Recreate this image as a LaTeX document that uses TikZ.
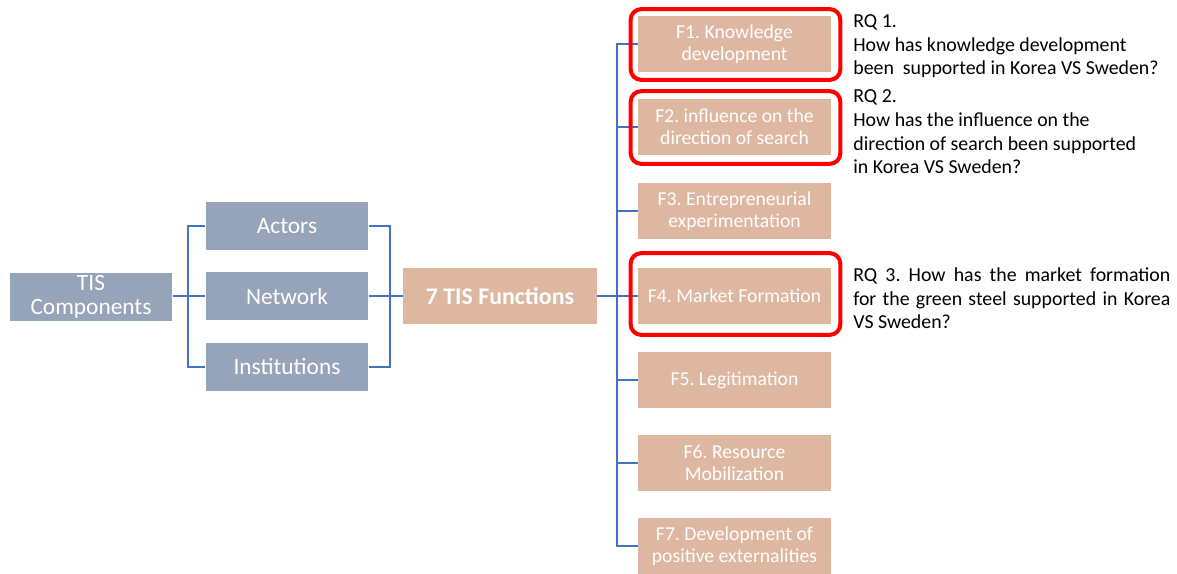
\documentclass[tikz,border=0pt]{standalone}
\usepackage{fontspec}
\setmainfont{Carlito}
\frenchspacing
\definecolor{compgray}{RGB}{150,164,185}
\definecolor{functan}{RGB}{222,183,161}
\definecolor{linkblue}{RGB}{68,114,196}
\definecolor{rqred}{RGB}{255,0,0}
\begin{document}
\begin{tikzpicture}[x=0.02cm,y=-0.02cm,
    comp/.style={fill=compgray,text=white,minimum width=3.26cm,minimum height=0.98cm,
        inner sep=0pt,align=center,font=\fontsize{13.3}{13.9}\selectfont},
    func/.style={fill=functan,text=white,minimum width=3.86cm,minimum height=1.14cm,
        inner sep=0pt,align=center,font=\fontsize{11.2}{12.5}\selectfont},
    link/.style={draw=linkblue,line width=1.1pt},
    hilite/.style={draw=rqred,line width=2.3pt,rounded corners=6pt},
    rq/.style={anchor=base west,inner sep=0pt,align=left,font=\fontsize{11.3}{13.5}\selectfont}]
        \useasboundingbox (0,0) rectangle (1177,574);
        %% components
        \node[comp] (tis) at (91,297) {TIS\\Components};
        \node[comp] (actors) at (287,226) {Actors};
        \node[comp] (network) at (287,296) {Network};
        \node[comp] (inst) at (287,367) {Institutions};
        %% functions
        \node[func,minimum width=3.88cm,font=\fontsize{13.6}{14}\selectfont\bfseries] (tisf) at (500,296) {7 TIS Functions};
        \node[func] (f1) at (734.5,44) {F1. Knowledge\\development};
        \node[func] (f2) at (734.5,127) {F2. influence on the\\direction of search};
        \node[func] (f3) at (734.5,211) {F3. Entrepreneurial\\experimentation};
        \node[func] (f4) at (734.5,296) {F4. Market Formation};
        \node[func] (f5) at (734.5,380) {F5. Legitimation};
        \node[func] (f6) at (734.5,463) {F6. Resource\\Mobilization};
        \node[func] (f7) at (734.5,546) {F7. Development of\\positive externalities};
        %% connectors
        \coordinate (lbus) at (188,296);
        \coordinate (rbus) at (390,296);
        \coordinate (trunk) at (617,296);
        \draw[link] (tis.east |- lbus) -- (lbus);
        \draw[link] (lbus) |- (actors.west);
        \draw[link] (lbus) |- (inst.west);
        \draw[link] (lbus) -- (network.west);
        \draw[link] (actors.east) -| (rbus);
        \draw[link] (inst.east) -| (rbus);
        \draw[link] (network.east) -- (tisf.west);
        \draw[link] (tisf.east) -- (f4.west);
        \draw[link] (trunk) |- (f1.west);
        \draw[link] (trunk) |- (f2.west);
        \draw[link] (trunk) |- (f3.west);
        \draw[link] (trunk) |- (f5.west);
        \draw[link] (trunk) |- (f6.west);
        \draw[link] (trunk) |- (f7.west);
        %% highlights
        \draw[hilite] ([shift={(-7,-6)}]f1.north west) rectangle ([shift={(9,7)}]f1.south east);
        \draw[hilite] ([shift={(-7,-7)}]f2.north west) rectangle ([shift={(9,8)}]f2.south east);
        \draw[hilite] ([shift={(-7,-14)}]f4.north west) rectangle ([shift={(9,10)}]f4.south east);
        %% research questions
        \node[rq] (rq1) at (853,75) {RQ 1.\\How has knowledge development\\been~ supported in Korea VS Sweden?};
        \node[rq] (rq2) at (853,174) {RQ 2.\\How has the influence on the\\direction of search been supported\\in Korea VS Sweden?};
        \node[rq] (rq3) at (853,329) {\makebox[6.34cm][s]{RQ 3. How has the market formation}\\
            \makebox[6.34cm][s]{for the green steel supported in Korea}\\VS Sweden?};
    \end{tikzpicture}
\end{document}
